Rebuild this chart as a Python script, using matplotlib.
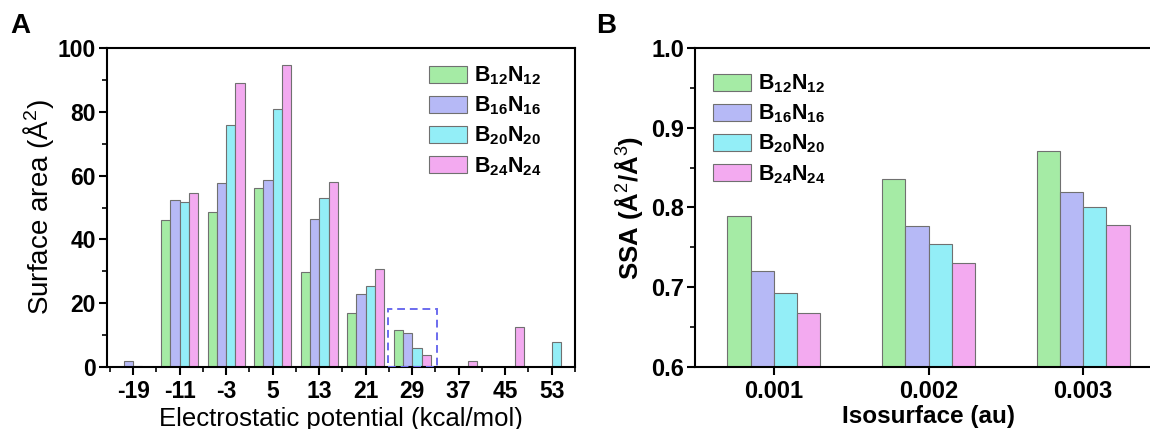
import matplotlib
matplotlib.use("Agg")
import matplotlib.pyplot as plt
from matplotlib.patches import Rectangle
from matplotlib.ticker import FixedLocator, MultipleLocator
import numpy as np

plt.rcParams['font.family'] = ['Liberation Sans', 'DejaVu Sans']
plt.rcParams['mathtext.fontset'] = 'custom'
plt.rcParams['mathtext.rm'] = 'Liberation Sans'
plt.rcParams['mathtext.it'] = 'Liberation Sans:italic'
plt.rcParams['mathtext.bf'] = 'Liberation Sans:bold'

# panel A: surface area distribution per ESP bin
esp = [-19, -11, -3, 5, 13, 21, 29, 37, 45, 53]
area_b12 = [0.0, 46.1, 48.7, 56.1, 29.8, 17.0, 11.7, 0.0, 0.0, 0.0]
area_b16 = [1.8, 52.3, 57.8, 58.6, 46.5, 23.0, 10.7, 0.0, 0.0, 0.0]
area_b20 = [0.3, 51.6, 75.9, 80.8, 53.0, 25.5, 6.1, 0.0, 0.0, 7.9]
area_b24 = [0.0, 54.7, 88.9, 94.6, 57.9, 30.8, 3.9, 1.8, 12.6, 0.0]

# panel B: specific surface area
iso = ['0.001', '0.002', '0.003']
ssa_b12 = [0.789, 0.836, 0.871]
ssa_b16 = [0.721, 0.777, 0.819]
ssa_b20 = [0.693, 0.754, 0.801]
ssa_b24 = [0.668, 0.730, 0.778]

names = [r'$\mathbf{B_{12}N_{12}}$', r'$\mathbf{B_{16}N_{16}}$',
         r'$\mathbf{B_{20}N_{20}}$', r'$\mathbf{B_{24}N_{24}}$']
colors = ['#a5eba5', '#b6b9f6', '#93eef7', '#f3aaf0']
edge = '#707070'

fig = plt.figure(figsize=(11.5, 4.29), dpi=100)
axA = fig.add_axes([107/1150, 62/429, 468/1150, 319/429])
axB = fig.add_axes([695/1150, 62/429, 467/1150, 319/429])

# ---- panel A
w = 1.6
x = np.array(esp, dtype=float)
for i, vals in enumerate([area_b12, area_b16, area_b20, area_b24]):
    axA.bar(x + (i - 1.5) * w, vals, width=w, color=colors[i], edgecolor=edge,
            linewidth=0.8, label=names[i])
axA.add_patch(Rectangle((24.8, 0), 8.4, 18.3, fill=False, ls=(0, (4, 2.5)),
                        ec='#6b6bee', lw=1.4, zorder=3))
axA.set_xlim(-23.5, 57)
axA.set_ylim(0, 100)
axA.xaxis.set_major_locator(FixedLocator(esp))
axA.xaxis.set_minor_locator(FixedLocator([e + 4 for e in esp] + [-23]))
axA.yaxis.set_major_locator(MultipleLocator(20))
axA.yaxis.set_minor_locator(MultipleLocator(10))
axA.set_xticklabels([str(e) for e in esp])
axA.tick_params(axis='both', which='major', labelsize=16.5, length=6, width=1.5, pad=2)
axA.tick_params(axis='x', which='major', pad=3)
axA.tick_params(axis='both', which='minor', length=3.5, width=1.2)
for lab in axA.get_xticklabels() + axA.get_yticklabels():
    lab.set_fontweight('bold')
axA.set_xlabel('Electrostatic potential (kcal/mol)', fontsize=18.5, labelpad=3)
axA.set_ylabel(r'Surface area (Å$^{2}$)', fontsize=20, labelpad=1)
axA.legend(loc='upper left', bbox_to_anchor=(0.67, 0.975), frameon=False,
           fontsize=15.5, handlelength=1.75, handleheight=0.85,
           labelspacing=0.35, handletextpad=0.35, borderaxespad=0)

# ---- panel B
wb = 0.15
xb = np.arange(len(iso))
for i, vals in enumerate([ssa_b12, ssa_b16, ssa_b20, ssa_b24]):
    axB.bar(xb + (i - 1.5) * wb, vals, width=wb, color=colors[i], edgecolor=edge,
            linewidth=0.8, label=names[i])
axB.set_xlim(-0.51, 2.51)
axB.set_ylim(0.6, 1.0)
axB.set_xticks(xb)
axB.set_xticklabels(iso)
axB.yaxis.set_major_locator(MultipleLocator(0.1))
axB.yaxis.set_minor_locator(MultipleLocator(0.05))
axB.xaxis.set_minor_locator(FixedLocator([]))
axB.tick_params(axis='both', which='major', labelsize=17, length=6, width=1.5, pad=2)
axB.tick_params(axis='x', which='major', pad=3)
axB.tick_params(axis='both', which='minor', length=3.5, width=1.2)
for lab in axB.get_xticklabels() + axB.get_yticklabels():
    lab.set_fontweight('bold')
axB.set_xlabel('Isosurface (au)', fontsize=17.5, fontweight='bold', labelpad=2)
axB.set_ylabel(r'SSA (Å$^{2}$/Å$^{3}$)', fontsize=18.5, fontweight='bold', labelpad=4)
axB.legend(loc='upper left', bbox_to_anchor=(0.02, 0.95), frameon=False,
           fontsize=15.5, handlelength=1.75, handleheight=0.85,
           labelspacing=0.35, handletextpad=0.35, borderaxespad=0)

for ax in (axA, axB):
    for s in ax.spines.values():
        s.set_linewidth(1.5)

fig.text(10/1150, 1 - 33/429, 'A', fontsize=20, fontweight='bold')
fig.text(596/1150, 1 - 33/429, 'B', fontsize=20, fontweight='bold')

fig.savefig('out.png', dpi=100)
